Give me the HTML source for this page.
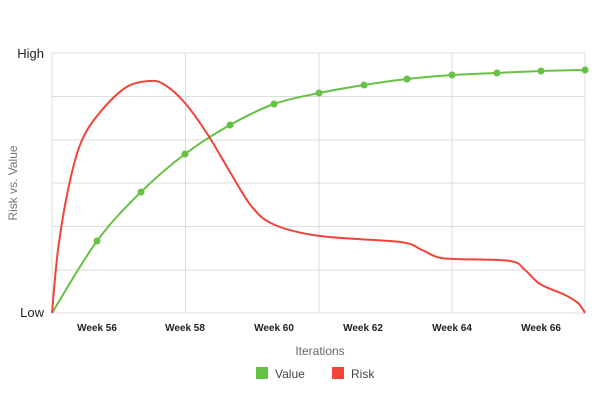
<!DOCTYPE html>
<html><head><meta charset="utf-8"><style>
body{margin:0;background:#fff;}
svg{display:block;font-family:"Liberation Sans",sans-serif;}
</style></head><body>
<svg width="600" height="400" xmlns="http://www.w3.org/2000/svg">
<g stroke="#dcdcdc" stroke-width="1">
<line x1="52" y1="53" x2="585" y2="53"/><line x1="52" y1="96.5" x2="585" y2="96.5"/>
<line x1="52" y1="140" x2="585" y2="140"/><line x1="52" y1="183" x2="585" y2="183"/>
<line x1="52" y1="226.5" x2="585" y2="226.5"/><line x1="52" y1="270" x2="585" y2="270"/>
<line x1="52" y1="313" x2="585" y2="313"/>
<line x1="52" y1="53" x2="52" y2="313"/><line x1="185.5" y1="53" x2="185.5" y2="313"/>
<line x1="319" y1="53" x2="319" y2="313"/><line x1="452" y1="53" x2="452" y2="313"/>
<line x1="585" y1="53" x2="585" y2="313"/>
</g>
<text x="44" y="58" font-size="13" text-anchor="end" fill="#222">High</text>
<text x="44" y="317" font-size="13" text-anchor="end" fill="#222">Low</text>
<text transform="translate(17,183) rotate(-90)" font-size="12" text-anchor="middle" fill="#777">Risk vs. Value</text>
<g font-size="10" font-weight="bold" fill="#222" text-anchor="middle">
<text x="97" y="331">Week 56</text><text x="185" y="331">Week 58</text>
<text x="274" y="331">Week 60</text><text x="363" y="331">Week 62</text>
<text x="452" y="331">Week 64</text><text x="541" y="331">Week 66</text>
</g>
<text x="320" y="355" font-size="12" text-anchor="middle" fill="#666">Iterations</text>
<rect x="256" y="367" width="12" height="12" fill="#66c144"/>
<text x="275" y="378" font-size="12" fill="#444">Value</text>
<rect x="332" y="367" width="12" height="12" fill="#f0443a"/>
<text x="351" y="378" font-size="12" fill="#444">Risk</text>
<path id="g" fill="none" stroke="#66c144" stroke-width="2"/>
<path id="r" fill="none" stroke="#f0443a" stroke-width="2"/>
<g id="dots" fill="#66c144"></g>
</svg>
<script>
function cr(p){let d="M"+p[0][0]+","+p[0][1];for(let i=0;i<p.length-1;i++){const a=p[Math.max(i-1,0)],b=p[i],c=p[i+1],e=p[Math.min(i+2,p.length-1)];d+=" C"+(b[0]+(c[0]-a[0])/6)+","+(b[1]+(c[1]-a[1])/6)+" "+(c[0]-(e[0]-b[0])/6)+","+(c[1]-(e[1]-b[1])/6)+" "+c[0]+","+c[1];}return d;}
const g=[[52,313],[97,241],[141,192],[185,154],[230,125],[274,104],[319,93],[364,85],[407,79],[452,75],[497,73],[541,71],[585,70]];
const r=[[52,313],[58,250],[68,190],[80,145],[97,116],[125,88],[150,81],[165,85],[185,103],[208,135],[230,172],[252,207],[275,225],[320,236],[400,242],[420,249],[437,257],[455,259],[510,261],[525,270],[540,284],[565,295],[578,303],[585,313]];
document.getElementById("g").setAttribute("d",cr(g));
document.getElementById("r").setAttribute("d",cr(r));
let s="";g.slice(1).forEach(q=>{s+='<circle cx="'+q[0]+'" cy="'+q[1]+'" r="3.5"/>';});
document.getElementById("dots").innerHTML=s;
</script>
</body></html>
